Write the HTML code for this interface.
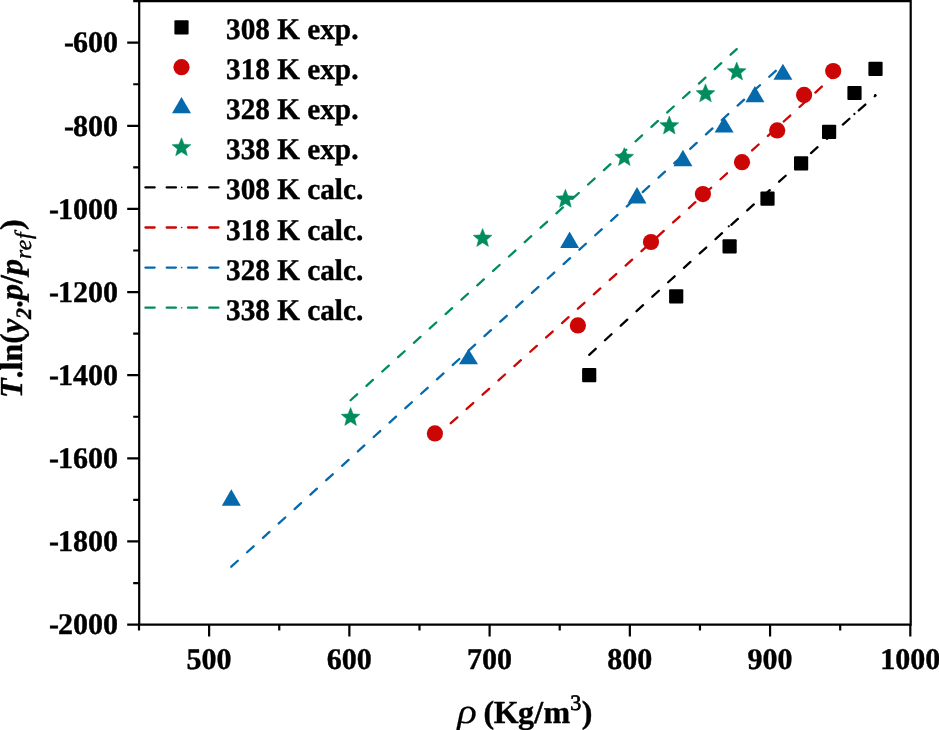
<!DOCTYPE html><html><head><meta charset="utf-8"><style>html,body{margin:0;padding:0;background:#fff;}svg{display:block;will-change:transform;}text{font-family:"Liberation Serif",serif;text-rendering:geometricPrecision;stroke:#000;stroke-width:0.4px;}</style></head><body>
<svg width="939" height="730" viewBox="0 0 939 730">
<rect width="939" height="730" fill="#fff"/>
<path d="M139.2 1.2H910.7V624.6H139.2Z" fill="none" stroke="#000" stroke-width="2.2" stroke-linejoin="miter"/>
<path d="M133.20 1.13H139.2M127.20 42.69H139.2M133.20 84.26H139.2M127.20 125.82H139.2M133.20 167.39H139.2M127.20 208.95H139.2M133.20 250.51H139.2M127.20 292.08H139.2M133.20 333.64H139.2M127.20 375.21H139.2M133.20 416.77H139.2M127.20 458.33H139.2M133.20 499.90H139.2M127.20 541.46H139.2M133.20 583.03H139.2M127.20 624.59H139.2M139.00 624.6V630.60M209.12 624.6V636.60M279.24 624.6V630.60M349.36 624.6V636.60M419.48 624.6V630.60M489.60 624.6V636.60M559.72 624.6V630.60M629.84 624.6V636.60M699.96 624.6V630.60M770.08 624.6V636.60M840.20 624.6V630.60M910.32 624.6V636.60" stroke="#000" stroke-width="2.2" fill="none"/>
<g font-weight="bold" font-size="30" fill="#000">
<text transform="translate(118.00,52.49) scale(1.0,1.0)" text-anchor="end"><tspan>-</tspan><tspan dx="-1.0">600</tspan></text>
<text transform="translate(118.00,135.62) scale(1.0,1.0)" text-anchor="end"><tspan>-</tspan><tspan dx="-1.0">800</tspan></text>
<text transform="translate(118.00,218.75) scale(1.0,1.0)" text-anchor="end"><tspan>-</tspan><tspan dx="-1.0">1000</tspan></text>
<text transform="translate(118.00,301.88) scale(1.0,1.0)" text-anchor="end"><tspan>-</tspan><tspan dx="-1.0">1200</tspan></text>
<text transform="translate(118.00,385.01) scale(1.0,1.0)" text-anchor="end"><tspan>-</tspan><tspan dx="-1.0">1400</tspan></text>
<text transform="translate(118.00,468.13) scale(1.0,1.0)" text-anchor="end"><tspan>-</tspan><tspan dx="-1.0">1600</tspan></text>
<text transform="translate(118.00,551.26) scale(1.0,1.0)" text-anchor="end"><tspan>-</tspan><tspan dx="-1.0">1800</tspan></text>
<text transform="translate(118.00,634.39) scale(1.0,1.0)" text-anchor="end"><tspan>-</tspan><tspan dx="-1.0">2000</tspan></text>
<text transform="translate(209.12,669.20) scale(1.0,1.0)" text-anchor="middle">500</text>
<text transform="translate(349.36,669.20) scale(1.0,1.0)" text-anchor="middle">600</text>
<text transform="translate(489.60,669.20) scale(1.0,1.0)" text-anchor="middle">700</text>
<text transform="translate(629.84,669.20) scale(1.0,1.0)" text-anchor="middle">800</text>
<text transform="translate(770.08,669.20) scale(1.0,1.0)" text-anchor="middle">900</text>
<text transform="translate(910.32,669.20) scale(1.0,1.0)" text-anchor="middle">1000</text>
</g>
<g fill="#000">
<text transform="translate(457.30,722.70) scale(1.17,1.0)" font-size="35" font-weight="normal" font-style="italic" style="stroke-width:0.15px">ρ</text>
<text transform="translate(483.40,722.70) scale(1.0,1.0)" font-size="32" font-weight="bold" font-style="normal">(</text>
<text transform="translate(493.70,722.70) scale(1.0,1.0)" font-size="32" font-weight="bold" font-style="normal">K</text>
<text transform="translate(518.00,722.70) scale(1.0,1.0)" font-size="32" font-weight="bold" font-style="normal">g</text>
<text transform="translate(534.30,722.70) scale(1.0,1.0)" font-size="32" font-weight="bold" font-style="normal">/</text>
<text transform="translate(543.40,722.70) scale(1.0,1.0)" font-size="32" font-weight="bold" font-style="normal">m</text>
<text transform="translate(570.30,710.00) scale(1.0,1.0)" font-size="22" font-weight="normal" font-style="normal" style="stroke-width:0.7px">3</text>
<text transform="translate(581.80,722.70) scale(1.0,1.0)" font-size="32" font-weight="bold" font-style="normal">)</text>
</g>
<g transform="translate(22.2,398) rotate(-90)"><text transform="scale(1,1.0)" font-size="32" font-weight="bold" fill="#000"><tspan font-style="italic">T</tspan>.ln(<tspan font-style="italic">y</tspan><tspan font-style="italic" font-size="22" dy="8.6">2</tspan><tspan dy="-8.6">.</tspan><tspan font-style="italic">p</tspan>/<tspan font-style="italic">p</tspan><tspan font-style="italic" font-weight="normal" font-size="23.5" dy="8.6" letter-spacing="0.6">ref</tspan><tspan dy="-8.6" dx="2">)</tspan></text></g>
<path d="M589.20 354.81Q732.35 222.51 875.50 95.59" stroke="#000000" stroke-width="2.3" stroke-dasharray="8.8 12.6" stroke-linecap="round" fill="none"/>
<path d="M434.90 437.48Q634.05 258.99 833.20 76.15" stroke="#CC0505" stroke-width="2.3" stroke-dasharray="8.8 12.6" stroke-linecap="round" fill="none"/>
<path d="M231.30 566.66Q507.10 315.50 782.90 64.33" stroke="#0569AB" stroke-width="2.3" stroke-dasharray="8.8 12.6" stroke-linecap="round" fill="none"/>
<path d="M350.60 400.23Q543.65 225.20 736.70 49.13" stroke="#008C5F" stroke-width="2.3" stroke-dasharray="8.8 12.6" stroke-linecap="round" fill="none"/>
<circle cx="875.2" cy="95.2" r="1.15" fill="#000000"/>
<circle cx="854.4" cy="114.0" r="1.15" fill="#000000"/>
<circle cx="728.8" cy="226.3" r="1.15" fill="#000000"/>
<rect x="582.10" y="368.00" width="14.2" height="14.2" rx="1" fill="#000000"/>
<rect x="669.10" y="289.20" width="14.2" height="14.2" rx="1" fill="#000000"/>
<rect x="722.50" y="239.30" width="14.2" height="14.2" rx="1" fill="#000000"/>
<rect x="760.40" y="191.60" width="14.2" height="14.2" rx="1" fill="#000000"/>
<rect x="794.00" y="156.20" width="14.2" height="14.2" rx="1" fill="#000000"/>
<rect x="822.00" y="124.70" width="14.2" height="14.2" rx="1" fill="#000000"/>
<rect x="847.40" y="85.90" width="14.2" height="14.2" rx="1" fill="#000000"/>
<rect x="868.40" y="61.70" width="14.2" height="14.2" rx="1" fill="#000000"/>
<circle cx="434.9" cy="433.4" r="8.1" fill="#CC0505"/>
<circle cx="577.9" cy="325.4" r="8.1" fill="#CC0505"/>
<circle cx="651.0" cy="242.0" r="8.1" fill="#CC0505"/>
<circle cx="702.9" cy="194.1" r="8.1" fill="#CC0505"/>
<circle cx="742.0" cy="162.2" r="8.1" fill="#CC0505"/>
<circle cx="777.2" cy="130.4" r="8.1" fill="#CC0505"/>
<circle cx="804.1" cy="94.9" r="8.1" fill="#CC0505"/>
<circle cx="833.2" cy="71.1" r="8.1" fill="#CC0505"/>
<path d="M231.3 489.2L240.8 505.75L221.8 505.75Z" fill="#0569AB"/>
<path d="M468.5 348.9L478.0 364.3L459.0 364.3Z" fill="#0569AB"/>
<path d="M569.6 231.5L579.1 248.0L560.1 248.0Z" fill="#0569AB"/>
<path d="M637.0 187.1L646.5 203.4L627.5 203.4Z" fill="#0569AB"/>
<path d="M682.9 149.8L692.4 166.2L673.4 166.2Z" fill="#0569AB"/>
<path d="M724.1 116.7L733.6 132.5L714.6 132.5Z" fill="#0569AB"/>
<path d="M754.9 86.0L764.4 102.2L745.4 102.2Z" fill="#0569AB"/>
<path d="M782.9 63.8L792.4 79.7L773.4 79.7Z" fill="#0569AB"/>
<polygon points="350.60,407.50 353.16,413.88 360.02,414.34 354.74,418.75 356.42,425.41 350.60,421.76 344.78,425.41 346.46,418.75 341.18,414.34 348.04,413.88" fill="#008C5F" stroke="#008C5F" stroke-width="0.5" stroke-linejoin="round"/>
<polygon points="482.60,228.50 485.16,234.88 492.02,235.34 486.74,239.75 488.42,246.41 482.60,242.76 476.78,246.41 478.46,239.75 473.18,235.34 480.04,234.88" fill="#008C5F" stroke="#008C5F" stroke-width="0.5" stroke-linejoin="round"/>
<polygon points="565.40,189.30 567.96,195.68 574.82,196.14 569.54,200.55 571.22,207.21 565.40,203.56 559.58,207.21 561.26,200.55 555.98,196.14 562.84,195.68" fill="#008C5F" stroke="#008C5F" stroke-width="0.5" stroke-linejoin="round"/>
<polygon points="624.30,147.60 626.86,153.98 633.72,154.44 628.44,158.85 630.12,165.51 624.30,161.86 618.48,165.51 620.16,158.85 614.88,154.44 621.74,153.98" fill="#008C5F" stroke="#008C5F" stroke-width="0.5" stroke-linejoin="round"/>
<polygon points="669.30,116.00 671.86,122.38 678.72,122.84 673.44,127.25 675.12,133.91 669.30,130.26 663.48,133.91 665.16,127.25 659.88,122.84 666.74,122.38" fill="#008C5F" stroke="#008C5F" stroke-width="0.5" stroke-linejoin="round"/>
<polygon points="705.50,83.90 708.06,90.28 714.92,90.74 709.64,95.15 711.32,101.81 705.50,98.16 699.68,101.81 701.36,95.15 696.08,90.74 702.94,90.28" fill="#008C5F" stroke="#008C5F" stroke-width="0.5" stroke-linejoin="round"/>
<polygon points="736.70,62.00 739.26,68.38 746.12,68.84 740.84,73.25 742.52,79.91 736.70,76.26 730.88,79.91 732.56,73.25 727.28,68.84 734.14,68.38" fill="#008C5F" stroke="#008C5F" stroke-width="0.5" stroke-linejoin="round"/>
<rect x="174.40" y="20.20" width="14.2" height="14.2" rx="1" fill="#000000"/>
<circle cx="181.5" cy="67.2" r="8.1" fill="#CC0505"/>
<path d="M181.5 96.9L191.0 113.3L172.0 113.3Z" fill="#0569AB"/>
<polygon points="181.50,137.80 184.06,144.18 190.92,144.64 185.64,149.05 187.32,155.71 181.50,152.06 175.68,155.71 177.36,149.05 172.08,144.64 178.94,144.18" fill="#008C5F" stroke="#008C5F" stroke-width="0.5" stroke-linejoin="round"/>
<path d="M145.45 187.40H219" stroke="#000000" stroke-width="2.3" stroke-dasharray="9.2 12.07" stroke-linecap="round" fill="none"/>
<circle cx="181.7" cy="187.40" r="0.8" fill="#000000"/>
<path d="M145.45 227.50H219" stroke="#CC0505" stroke-width="2.3" stroke-dasharray="9.2 12.07" stroke-linecap="round" fill="none"/>
<circle cx="181.7" cy="227.50" r="0.8" fill="#CC0505"/>
<path d="M145.45 267.60H219" stroke="#0569AB" stroke-width="2.3" stroke-dasharray="9.2 12.07" stroke-linecap="round" fill="none"/>
<circle cx="181.7" cy="267.60" r="0.8" fill="#0569AB"/>
<path d="M145.45 307.70H219" stroke="#008C5F" stroke-width="2.3" stroke-dasharray="9.2 12.07" stroke-linecap="round" fill="none"/>
<circle cx="181.7" cy="307.70" r="0.8" fill="#008C5F"/>
<g font-weight="bold" font-size="30" fill="#000">
<text transform="translate(226.00,38.70) scale(0.975,1.0)" text-anchor="start">308 K exp.</text>
<text transform="translate(226.00,78.87) scale(0.975,1.0)" text-anchor="start">318 K exp.</text>
<text transform="translate(226.00,119.04) scale(0.975,1.0)" text-anchor="start">328 K exp.</text>
<text transform="translate(226.00,159.21) scale(0.975,1.0)" text-anchor="start">338 K exp.</text>
<text transform="translate(226.00,199.38) scale(0.975,1.0)" text-anchor="start">308 K calc.</text>
<text transform="translate(226.00,239.55) scale(0.975,1.0)" text-anchor="start">318 K calc.</text>
<text transform="translate(226.00,279.72) scale(0.975,1.0)" text-anchor="start">328 K calc.</text>
<text transform="translate(226.00,319.89) scale(0.975,1.0)" text-anchor="start">338 K calc.</text>
</g>
</svg></body></html>
